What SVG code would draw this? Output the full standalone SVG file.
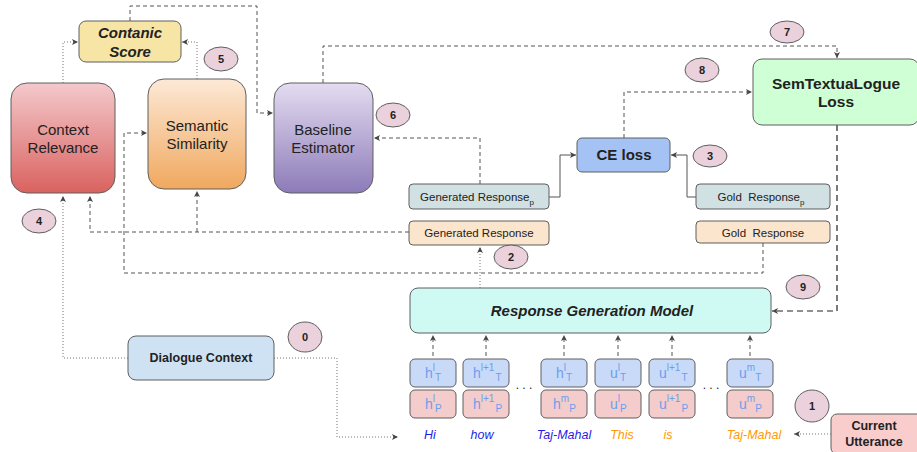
<svg xmlns="http://www.w3.org/2000/svg" width="917" height="452" viewBox="0 0 917 452">
<style>
text{font-family:"Liberation Sans",Arial,sans-serif;fill:#222}
.box{stroke:#5f5f5f;stroke-width:1}
.big{font-size:15px;text-anchor:middle}
.bold{font-weight:bold}
.bi{font-weight:bold;font-style:italic}
.sm{font-size:11.5px;text-anchor:middle}
.num{font-size:11px;font-weight:bold;text-anchor:middle}
.circ{fill:#ead1dc;stroke:#5f5f5f;stroke-width:1}
.dash{fill:none;stroke:#555;stroke-width:1;stroke-dasharray:4 3}
.dot{fill:none;stroke:#777;stroke-width:1;stroke-dasharray:1 2}
.solid{fill:none;stroke:#555;stroke-width:1}
.tok{font-size:14px;fill:#6d9eeb}
.ss{font-size:10px}
.tT{fill:#c9daf8}
.tP{fill:#f4cccc}
.w{font-size:12.5px;font-style:italic;text-anchor:middle}
.blue{fill:#1e1ee8}
.orange{fill:#ff9900}
</style>
<defs>
<marker id="ar" markerWidth="7" markerHeight="7" refX="6" refY="3.5" orient="auto" markerUnits="userSpaceOnUse"><path d="M0,0.5 L6,3.5 L0,6.5 L1.5,3.5z" fill="#444"/></marker>
<linearGradient id="gCR" x1="0" y1="0" x2="0" y2="1"><stop offset="0" stop-color="#f4c9cc"/><stop offset="1" stop-color="#d9625f"/></linearGradient>
<linearGradient id="gSS" x1="0" y1="0" x2="0" y2="1"><stop offset="0" stop-color="#fde9d7"/><stop offset="1" stop-color="#f0a85e"/></linearGradient>
<linearGradient id="gBE" x1="0" y1="0" x2="0" y2="1"><stop offset="0" stop-color="#e4dcf1"/><stop offset="1" stop-color="#8c7bb8"/></linearGradient>
</defs>

<g id="connectors">
<path class="dot" d="M63,83 V42 H78" marker-end="url(#ar)"/>
<path class="dot" d="M197,79 V42 H182" marker-end="url(#ar)"/>
<path class="dash" d="M130,21 V6 H257 V113 H273" marker-end="url(#ar)"/>
<path class="dash" d="M323,83 V46 H837 V58" marker-end="url(#ar)"/>
<path class="dash" d="M624,138 V92 H752" marker-end="url(#ar)"/>
<path class="solid" d="M696,197 H687 V155 H671" marker-end="url(#ar)"/>
<path class="solid" d="M549,197 H560 V155 H576" marker-end="url(#ar)"/>
<path class="dash" d="M480,184 V138 H374" marker-end="url(#ar)"/>
<path class="dash" d="M409,232 H90 V196" marker-end="url(#ar)"/>
<path class="dash" d="M197,232 V191" marker-end="url(#ar)"/>
<path class="dash" d="M763,243 V273 H124 V133 H147" marker-end="url(#ar)"/>
<path class="dot" d="M480,288 V247" marker-end="url(#ar)"/>
<path d="M837,125 V311 H772" fill="none" stroke="#222" stroke-width="1.2" stroke-dasharray="6 4" marker-end="url(#ar)"/>
<path class="dot" d="M128,358 H63 V196" marker-end="url(#ar)"/>
<path class="dot" d="M274,358 H337 V437 H398" marker-end="url(#ar)"/>
<path class="dot" d="M831,434 H794" marker-end="url(#ar)"/>
<path class="dash" d="M433,356 V335" marker-end="url(#ar)"/>
<path class="dash" d="M486,356 V335" marker-end="url(#ar)"/>
<path class="dash" d="M564,356 V335" marker-end="url(#ar)"/>
<path class="dash" d="M618,356 V335" marker-end="url(#ar)"/>
<path class="dash" d="M672,356 V335" marker-end="url(#ar)"/>
<path class="dash" d="M750,356 V335" marker-end="url(#ar)"/>
</g>

<g id="contanic-score">
<rect class="box" x="79" y="21" width="102" height="41" rx="7" fill="#f7e5a6"/>
<text class="big bi" x="130" y="38">Contanic</text>
<text class="big bi" x="130" y="57">Score</text>
</g>
<g id="context-relevance">
<rect class="box" x="11" y="83" width="104" height="110" rx="16" fill="url(#gCR)"/>
<text class="big" x="63" y="135">Context</text>
<text class="big" x="63" y="153">Relevance</text>
</g>
<g id="semantic-similarity">
<rect class="box" x="148" y="79" width="98" height="110" rx="16" fill="url(#gSS)"/>
<text class="big" x="197" y="131">Semantic</text>
<text class="big" x="197" y="149">Similarity</text>
</g>
<g id="baseline-estimator">
<rect class="box" x="274" y="83" width="99" height="110" rx="16" fill="url(#gBE)"/>
<text class="big" x="323" y="135">Baseline</text>
<text class="big" x="323" y="153">Estimator</text>
</g>
<g id="ce-loss">
<rect class="box" x="577" y="138" width="93" height="34" rx="5" fill="#a4c2f4"/>
<text class="big bold" x="624" y="160">CE loss</text>
</g>
<g id="semtextualogue-loss">
<rect class="box" x="753" y="59" width="166" height="66" rx="9" fill="#cfffd5"/>
<text class="bold" font-size="15.5" text-anchor="middle" x="836" y="89">SemTextuaLogue</text>
<text class="bold" font-size="15.5" text-anchor="middle" x="836" y="107">Loss</text>
</g>
<g id="generated-response-p">
<rect class="box" x="409" y="184" width="140" height="25" rx="4" fill="#d0e0e3"/>
<text class="sm" x="477" y="201">Generated Response<tspan font-size="8" dy="4">p</tspan></text>
</g>
<g id="generated-response">
<rect class="box" x="409" y="221" width="140" height="24" rx="4" fill="#fce5cd"/>
<text class="sm" x="479" y="237">Generated Response</text>
</g>
<g id="gold-response-p">
<rect class="box" x="696" y="184" width="134" height="25" rx="4" fill="#d0e0e3"/>
<text class="sm" x="761" y="201" xml:space="preserve">Gold  Response<tspan font-size="8" dy="4">p</tspan></text>
</g>
<g id="gold-response">
<rect class="box" x="696" y="221" width="134" height="22" rx="4" fill="#fce5cd"/>
<text class="sm" x="763" y="237" xml:space="preserve">Gold  Response</text>
</g>
<g id="response-generation-model">
<rect class="box" x="410" y="288" width="361" height="45" rx="8" fill="#cffaf3"/>
<text class="big bi" x="592" y="316">Response Generation Model</text>
</g>
<g id="dialogue-context">
<rect class="box" x="128" y="336" width="146" height="44" rx="8" fill="#cfe2f3"/>
<text class="bold" font-size="12.5" text-anchor="middle" x="201" y="362">Dialogue Context</text>
</g>
<g id="current-utterance">
<rect class="box" x="831" y="414" width="92" height="40" rx="6" fill="#f8cdcc"/>
<text class="bold" font-size="12.5" text-anchor="middle" x="874" y="430">Current</text>
<text class="bold" font-size="12.5" text-anchor="middle" x="874" y="446">Utterance</text>
</g>

<g id="tokens">
<rect class="box tT" x="410" y="359" width="46" height="28" rx="5"/>
<rect class="box tP" x="410" y="390" width="46" height="28" rx="5"/>
<rect class="box tT" x="463" y="359" width="46" height="28" rx="5"/>
<rect class="box tP" x="463" y="390" width="46" height="28" rx="5"/>
<rect class="box tT" x="541" y="359" width="46" height="28" rx="5"/>
<rect class="box tP" x="541" y="390" width="46" height="28" rx="5"/>
<rect class="box tT" x="595" y="359" width="46" height="28" rx="5"/>
<rect class="box tP" x="595" y="390" width="46" height="28" rx="5"/>
<rect class="box tT" x="649" y="359" width="46" height="28" rx="5"/>
<rect class="box tP" x="649" y="390" width="46" height="28" rx="5"/>
<rect class="box tT" x="727" y="359" width="46" height="28" rx="5"/>
<rect class="box tP" x="727" y="390" width="46" height="28" rx="5"/>

<text class="tok" x="425" y="378">h<tspan class="ss" dy="-7">l</tspan><tspan class="ss" dy="10">T</tspan></text>
<text class="tok" x="425" y="409">h<tspan class="ss" dy="-7">l</tspan><tspan class="ss" dy="10">P</tspan></text>
<text class="tok" x="473" y="378">h<tspan class="ss" dy="-7">l+1</tspan><tspan class="ss" dy="10" dx="1">T</tspan></text>
<text class="tok" x="473" y="409">h<tspan class="ss" dy="-7">l+1</tspan><tspan class="ss" dy="10" dx="1">P</tspan></text>
<text class="tok" x="556" y="378">h<tspan class="ss" dy="-7">l</tspan><tspan class="ss" dy="10">T</tspan></text>
<text class="tok" x="553" y="409">h<tspan class="ss" dy="-7">m</tspan><tspan class="ss" dy="10">P</tspan></text>
<text class="tok" x="610" y="378">u<tspan class="ss" dy="-7">l</tspan><tspan class="ss" dy="10">T</tspan></text>
<text class="tok" x="610" y="409">u<tspan class="ss" dy="-7">l</tspan><tspan class="ss" dy="10">P</tspan></text>
<text class="tok" x="659" y="378">u<tspan class="ss" dy="-7">l+1</tspan><tspan class="ss" dy="10" dx="1">T</tspan></text>
<text class="tok" x="659" y="409">u<tspan class="ss" dy="-7">l+1</tspan><tspan class="ss" dy="10" dx="1">P</tspan></text>
<text class="tok" x="739" y="378">u<tspan class="ss" dy="-7">m</tspan><tspan class="ss" dy="10">T</tspan></text>
<text class="tok" x="739" y="409">u<tspan class="ss" dy="-7">m</tspan><tspan class="ss" dy="10">P</tspan></text>

<text font-size="12" text-anchor="middle" x="524" y="389">. . .</text>
<text font-size="12" text-anchor="middle" x="711" y="389">. . .</text>
</g>

<g id="words">
<text class="w blue" x="430" y="439">Hi</text>
<text class="w blue" x="482" y="439">how</text>
<text class="w blue" x="564" y="439">Taj-Mahal</text>
<text class="w orange" x="622" y="439">This</text>
<text class="w orange" x="668" y="439">is</text>
<text class="w orange" x="754" y="439">Taj-Mahal</text>
</g>

<g id="step-labels">
<ellipse class="circ" cx="305" cy="337" rx="17" ry="15"/><text class="num" x="305" y="341">0</text>
<ellipse class="circ" cx="812" cy="406" rx="17" ry="16"/><text class="num" x="812" y="410">1</text>
<ellipse class="circ" cx="511" cy="257" rx="17" ry="12"/><text class="num" x="511" y="261">2</text>
<ellipse class="circ" cx="710" cy="156" rx="17" ry="11"/><text class="num" x="710" y="160">3</text>
<ellipse class="circ" cx="39" cy="221" rx="17" ry="12"/><text class="num" x="39" y="225">4</text>
<ellipse class="circ" cx="221" cy="59" rx="17" ry="12"/><text class="num" x="221" y="63">5</text>
<ellipse class="circ" cx="393" cy="115" rx="17" ry="12"/><text class="num" x="393" y="119">6</text>
<ellipse class="circ" cx="787" cy="32" rx="17" ry="11"/><text class="num" x="787" y="36">7</text>
<ellipse class="circ" cx="702" cy="70" rx="17" ry="12"/><text class="num" x="702" y="74">8</text>
<ellipse class="circ" cx="803" cy="287" rx="17" ry="12"/><text class="num" x="803" y="291">9</text>
</g>
</svg>
